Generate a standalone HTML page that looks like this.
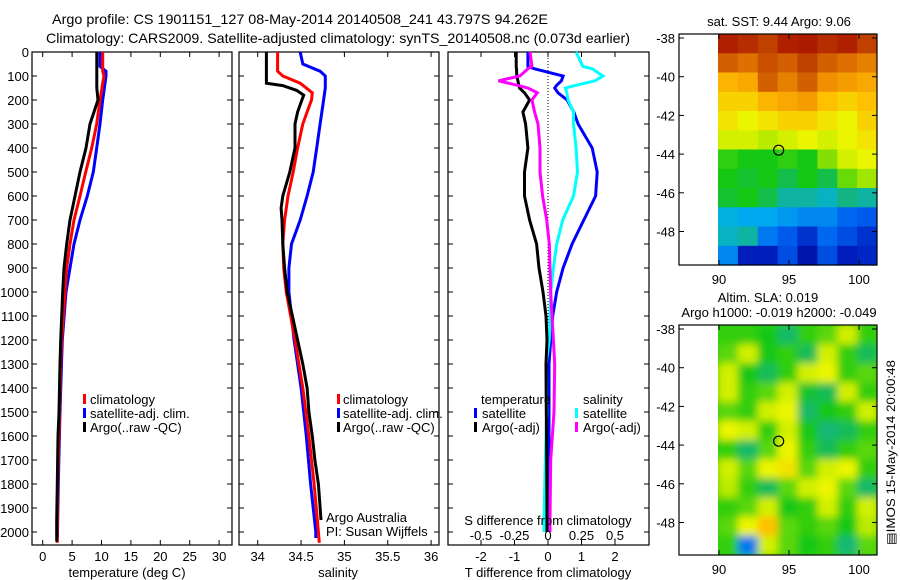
<!DOCTYPE html>
<html><head><meta charset="utf-8">
<style>
html,body{margin:0;padding:0;background:#fff;}
svg{display:block;font-family:"Liberation Sans",sans-serif;}
text{fill:#000;}
</style></head>
<body>
<svg id="fig" width="900" height="580" viewBox="0 0 900 580" xmlns="http://www.w3.org/2000/svg">
<rect width="900" height="580" fill="#fff"/>
<text x="52" y="24" font-size="14" textLength="496" lengthAdjust="spacingAndGlyphs">Argo profile: CS 1901151_127 08-May-2014 20140508_241 43.797S 94.262E</text>
<text x="46" y="43" font-size="14" textLength="584" lengthAdjust="spacingAndGlyphs">Climatology: CARS2009. Satellite-adjusted climatology: synTS_20140508.nc (0.073d earlier)</text>
<g id="maps"></g>
<g id="panels"></g>
<text transform="translate(895,545) rotate(-90)" font-size="12" textLength="185" lengthAdjust="spacingAndGlyphs">▤IMOS 15-May-2014 20:00:48</text>
</svg>
<script>
// ---------- data ----------
const depthT = [0,80,150,200,300,400,500,600,700,800,900,1000,1100,1200,1300,1500,1600,1800,1950,2040];
const argoTemp = [9.2,9.2,9.2,9.4,8.04,7.36,6.34,5.49,4.64,4.08,3.62,3.4,3.23,3.06,2.94,2.77,2.6,2.49,2.38,2.38];
const depthClim = [0,80,100,200,300,400,500,600,700,800,900,1000,1200,1300,1500,1800,2000,2045];
const climTemp = [10.2,10.2,10.4,9.74,9.18,8.33,7.31,6.34,5.32,4.64,4.08,3.8,3.23,3.06,2.86,2.55,2.48,2.48];
const depthSat = [0,60,80,100,200,300,400,500,600,700,800,900,1000,1200,1300,1500,1800,2000,2025];
const satTemp = [9.74,9.74,10.77,10.77,10.2,9.74,9.18,8.6,7.58,6.34,5.32,4.64,3.96,3.33,3.2,2.94,2.65,2.52,2.52];

const depthArgoS = [0,130,140,160,180,200,250,300,400,500,600,650,700,800,900,1000,1100,1200,1300,1400,1500,1600,1700,1800,1950];
const argoSal = [34.10,34.10,34.29,34.45,34.53,34.51,34.46,34.43,34.43,34.37,34.29,34.27,34.28,34.29,34.31,34.34,34.40,34.46,34.52,34.57,34.59,34.63,34.66,34.70,34.73];
const depthClimS = [0,80,100,130,170,200,250,300,400,500,600,700,800,900,1000,1200,1400,1600,1800,2000,2045];
const climSal = [34.23,34.23,34.29,34.49,34.63,34.62,34.57,34.52,34.46,34.41,34.35,34.31,34.29,34.30,34.33,34.43,34.52,34.59,34.65,34.70,34.71];
const depthSatS = [0,50,80,100,150,200,300,400,500,600,700,800,900,1000,1200,1400,1600,1800,2000,2025];
const satSal = [34.49,34.52,34.72,34.78,34.78,34.76,34.72,34.68,34.64,34.57,34.49,34.39,34.36,34.36,34.42,34.50,34.56,34.61,34.67,34.67];

const depthD = [0,60,70,100,120,140,150,170,200,250,300,400,500,600,700,800,900,1000,1100,1200,1300,1500,1700,1950,2000];
const argoTdiff = [-0.95,-0.95,-0.94,-0.93,-0.9,-0.87,-0.85,-0.7,-0.55,-0.75,-0.67,-0.6,-0.7,-0.7,-0.55,-0.34,-0.27,-0.15,-0.06,-0.03,-0.06,-0.05,-0.04,-0.03,-0.03];
const satTdiff = [-0.6,-0.6,-0.4,0.45,0.4,0.25,0.2,0.3,0.57,0.77,0.9,1.32,1.47,1.42,1.07,0.72,0.45,0.26,0.14,0.08,0.03,0.03,0.03,0.03,0.03];
const argoSdiff = [-0.134,-0.12,-0.15,-0.21,-0.37,-0.22,-0.15,-0.08,-0.12,-0.1,-0.075,-0.06,-0.06,-0.04,-0.01,0.01,0.015,0.02,0.03,0.04,0.05,0.045,0.02,0.015,0.015];
const satSdiff = [0.21,0.26,0.33,0.41,0.35,0.2,0.13,0.14,0.15,0.19,0.19,0.21,0.22,0.19,0.11,0.065,0.04,0.02,0.015,0.01,-0.015,-0.01,-0.02,-0.03,-0.03];

const depthTicks = [0,100,200,300,400,500,600,700,800,900,1000,1100,1200,1300,1400,1500,1600,1700,1800,1900,2000];
const tempTicks = [0,5,10,15,20,25,30];
const salTicks = ["34","34.5","35","35.5","36"];
const tdiffTicks = [-2,-1,0,1,2];
const sdiffTicks = ["-0.5","-0.25","0","0.25","0.5"];
const latTicks = [-38,-40,-42,-44,-46,-48];
const lonTicks = [90,95,100];

const sstGrid = [
[0.95,0.93,0.9,0.95,0.96,0.93,0.95,0.9],
[0.86,0.84,0.88,0.86,0.9,0.86,0.84,0.82],
[0.74,0.76,0.86,0.82,0.86,0.8,0.78,0.76],
[0.70,0.70,0.74,0.76,0.78,0.72,0.70,0.72],
[0.68,0.66,0.68,0.70,0.70,0.68,0.66,0.70],
[0.64,0.64,0.62,0.64,0.66,0.64,0.66,0.68],
[0.52,0.50,0.50,0.52,0.50,0.58,0.64,0.66],
[0.50,0.48,0.50,0.46,0.50,0.46,0.56,0.60],
[0.48,0.50,0.46,0.40,0.40,0.38,0.42,0.40],
[0.36,0.34,0.34,0.32,0.30,0.30,0.26,0.24],
[0.38,0.40,0.28,0.24,0.18,0.26,0.22,0.18],
[0.30,0.14,0.14,0.22,0.10,0.22,0.14,0.16]
];
const slaGrid = [
[0.52,0.52,0.50,0.44,0.52,0.55,0.64,0.52],
[0.55,0.64,0.50,0.52,0.45,0.64,0.52,0.45],
[0.64,0.50,0.45,0.52,0.64,0.66,0.52,0.55],
[0.64,0.52,0.55,0.64,0.48,0.45,0.64,0.52],
[0.55,0.52,0.64,0.66,0.44,0.50,0.52,0.64],
[0.66,0.64,0.52,0.64,0.50,0.43,0.45,0.52],
[0.52,0.44,0.55,0.66,0.52,0.45,0.52,0.55],
[0.64,0.55,0.66,0.68,0.55,0.64,0.66,0.52],
[0.62,0.52,0.45,0.55,0.64,0.66,0.55,0.44],
[0.52,0.55,0.64,0.50,0.52,0.64,0.52,0.64],
[0.55,0.66,0.72,0.55,0.52,0.55,0.50,0.62],
[0.52,0.28,0.64,0.55,0.50,0.52,0.43,0.55]
];

// ---------- helpers ----------
const NS = "http://www.w3.org/2000/svg";
function mk(tag, attrs, parent){ const e=document.createElementNS(NS,tag); for(const k in attrs) e.setAttribute(k,attrs[k]); parent.appendChild(e); return e; }
const panels = document.getElementById('panels');
const maps = document.getElementById('maps');
const yTop=52, yBot=545;
function yDepth(d){ return 52 + d*0.24; }
function xTemp(t){ return 42.7 + t*5.88; }
function xSal(s){ return 257.7 + (s-34)*86.7; }
function xTd(t){ return 548 + t*33.5; }
function xSd(s){ return 548 + s*134; }

function box(x0,x1,name){
  const r=mk('rect',{x:x0,y:yTop,width:x1-x0,height:yBot-yTop,fill:'none',stroke:'#000','stroke-width':1.2},panels);
  
  
  depthTicks.forEach(d=>{ const y=yDepth(d);
    mk('line',{x1:x0,x2:x0+5,y1:y,y2:y,stroke:'#000'},panels);
    mk('line',{x1:x1-5,x2:x1,y1:y,y2:y,stroke:'#000'},panels);
  });
}
function xticks(vals,fx,labels,name){
  vals.forEach((v,i)=>{ const x=fx(v);
    mk('line',{x1:x,x2:x,y1:yBot,y2:yBot-5,stroke:'#000'},panels);
    mk('line',{x1:x,x2:x,y1:yTop,y2:yTop+5,stroke:'#000'},panels);
    const t=mk('text',{x:x,y:561,'font-size':13,'text-anchor':'middle'},panels);
    t.textContent=labels[i];
    
    
  });
}
function line(xs,ds,fx,color,name){
  const pts=xs.map((v,i)=>fx(v).toFixed(1)+','+yDepth(ds[i]).toFixed(1)).join(' ');
  const p=mk('polyline',{points:pts,fill:'none',stroke:color,'stroke-width':3,'stroke-linejoin':'miter'},panels);
  
  
}
function txt(x,y,s,size,name,anchor){
  const t=mk('text',{x:x,y:y,'font-size':size,'text-anchor':anchor||'start'},panels);
  t.textContent=s;
  
  
  return t;
}
function marker(x,y,color){
  const r=mk('rect',{x:x,y:y-10,width:3,height:10,fill:color},panels);
  
  
}

// ---------- panel 1 ----------
box(32,232,'temperature-panel');
depthTicks.forEach(d=>{ txt(29,yDepth(d)+5,String(d),13,'depth-tick-label','end'); });
xticks(tempTicks,xTemp,tempTicks.map(String),'temperature-tick-label');
line(satTemp,depthSat,xTemp,'#0000ff','satellite-temperature-line');
line(climTemp,depthClim,xTemp,'#ff0000','climatology-temperature-line');
line(argoTemp,depthT,xTemp,'#000000','argo-temperature-line');
txt(127,577,'temperature (deg C)',13,'temperature-axis-title','middle');
marker(83,404,'#ff0000'); txt(90,404,'climatology',13,'legend-climatology');
marker(83,418,'#0000ff'); txt(90,418,'satellite-adj. clim.',13,'legend-satellite');
marker(83,432,'#000000'); txt(90,432,'Argo(..raw -QC)',13,'legend-argo');

// ---------- panel 2 ----------
box(239,439,'salinity-panel');
xticks(salTicks.map(Number),xSal,salTicks,'salinity-tick-label');
line(satSal,depthSatS,xSal,'#0000ff','satellite-salinity-line');
line(climSal,depthClimS,xSal,'#ff0000','climatology-salinity-line');
line(argoSal,depthArgoS,xSal,'#000000','argo-salinity-line');
txt(338,577,'salinity',13,'salinity-axis-title','middle');
marker(337,404,'#ff0000'); txt(343,404,'climatology',13,'legend-climatology');
marker(337,418,'#0000ff'); txt(343,418,'satellite-adj. clim.',13,'legend-satellite');
marker(337,432,'#000000'); txt(343,432,'Argo(..raw -QC)',13,'legend-argo');
txt(326,522,'Argo Australia',13,'credit-line-1');
txt(326,536,'PI: Susan Wijffels',13,'credit-line-2');

// ---------- panel 3 ----------
box(448,649,'difference-panel');
xticks(tdiffTicks,xTd,tdiffTicks.map(String),'t-difference-tick-label');
mk('line',{x1:548,x2:548,y1:yTop,y2:400,stroke:'#000','stroke-dasharray':'1,2'},panels);
line(satTdiff,depthD,xTd,'#0000ff','satellite-tdiff-line');
line(satSdiff,depthD,xSd,'#00ffff','satellite-sdiff-line');
line(argoTdiff,depthD,xTd,'#000000','argo-tdiff-line');
line(argoSdiff,depthD,xSd,'#ff00ff','argo-sdiff-line');
sdiffTicks.forEach(s=>{ txt(xSd(Number(s)),540,s,13,'s-difference-tick-label','middle'); });
txt(548,525,'S difference from climatology',13,'s-difference-axis-title','middle');
txt(548,577,'T difference from climatology',13,'t-difference-axis-title','middle');
txt(481,404,'temperature',13,'legend-temperature-heading');
marker(474,418,'#0000ff'); txt(482,418,'satellite',13,'legend-tdiff-satellite');
marker(474,432,'#000000'); txt(482,432,'Argo(-adj)',13,'legend-tdiff-argo');
txt(583,404,'salinity',13,'legend-salinity-heading');
marker(575,418,'#00ffff'); txt(583,418,'satellite',13,'legend-sdiff-satellite');
marker(575,432,'#ff00ff'); txt(583,432,'Argo(-adj)',13,'legend-sdiff-argo');

// ---------- maps ----------
const stops=[[0,[0,0,128]],[0.15,[0,32,192]],[0.25,[0,96,240]],[0.35,[0,176,240]],[0.42,[20,180,130]],[0.5,[20,200,20]],[0.6,[160,230,0]],[0.66,[235,245,0]],[0.72,[255,192,0]],[0.8,[240,144,0]],[0.9,[192,64,0]],[1,[160,0,0]]];
function cmap(v){
  for(let i=1;i<stops.length;i++){ if(v<=stops[i][0]){ const a=stops[i-1],b=stops[i]; const f=(v-a[0])/(b[0]-a[0]);
    const c=a[1].map((x,k)=>Math.round(x+(b[1][k]-x)*f)); return 'rgb('+c.join(',')+')'; } }
  return 'rgb(160,0,0)';
}
const defs=mk('defs',{},maps);
const flt=mk('filter',{id:'blur',x:'-10%',y:'-10%',width:'120%',height:'120%'},defs);
mk('feGaussianBlur',{stdDeviation:4},flt);
const cp=mk('clipPath',{id:'clipB'},defs); mk('rect',{x:718,y:325,width:159,height:230},cp);

function drawMap(grid,top,bot,lat38y,name,blur){
  const g=mk('g',{},maps);
  
  
  const x0=718,x1=877, cw=(x1-x0)/grid[0].length, ch=(bot-top)/grid.length;
  const inner=mk('g',blur?{'clip-path':'url(#clipB)'}:{},g);
  const cells=mk('g',blur?{filter:'url(#blur)'}:{},inner);
  if(blur) mk('rect',{x:x0-10,y:top-10,width:x1-x0+20,height:bot-top+20,fill:cmap(0.52)},cells);
  grid.forEach((row,r)=>row.forEach((v,c)=>{
    const rc=mk('rect',{x:(x0+c*cw).toFixed(1),y:(top+r*ch).toFixed(1),width:(cw+0.5).toFixed(1),height:(ch+0.5).toFixed(1),fill:cmap(v)},cells);
    
    
  }));
  mk('rect',{x:679,y:top,width:198,height:bot-top,fill:'none',stroke:'#000','stroke-width':1.2},g);
  const py=lat=>lat38y+(-38-lat)*19.35;
  latTicks.forEach(l=>{ const y=py(l);
    mk('line',{x1:679,x2:684,y1:y,y2:y,stroke:'#000'},g);
    mk('line',{x1:872,x2:877,y1:y,y2:y,stroke:'#000'},g);
    const t=mk('text',{x:675,y:y+5,'font-size':13,'text-anchor':'end'},g); t.textContent=String(l);
  });
  lonTicks.forEach(l=>{ const x=719+(l-90)*14;
    mk('line',{x1:x,x2:x,y1:bot,y2:bot-5,stroke:'#000'},g);
    mk('line',{x1:x,x2:x,y1:top,y2:top+5,stroke:'#000'},g);
    const t=mk('text',{x:x,y:bot+19,'font-size':13,'text-anchor':'middle'},g); t.textContent=String(l);
  });
  const cx=719+4.262*14, cy=py(-43.797);
  const ci=mk('ellipse',{cx:cx,cy:cy,rx:5,ry:5,fill:'none',stroke:'#000','stroke-width':1.2},g);
  
  
}
drawMap(sstGrid,34,265,38,'sst-map',false);
drawMap(slaGrid,325,555,329,'sla-map',true);
function mtxt(x,y,s,name){ const t=mk('text',{x:x,y:y,'font-size':13,'text-anchor':'middle'},maps); t.textContent=s;
  
   }
mtxt(779,26,'sat. SST: 9.44 Argo: 9.06','sst-map-title');
mtxt(768,302,'Altim. SLA: 0.019','sla-map-title-1');
mtxt(779,317,'Argo h1000: -0.019 h2000: -0.049','sla-map-title-2');
</script>
</body></html>
